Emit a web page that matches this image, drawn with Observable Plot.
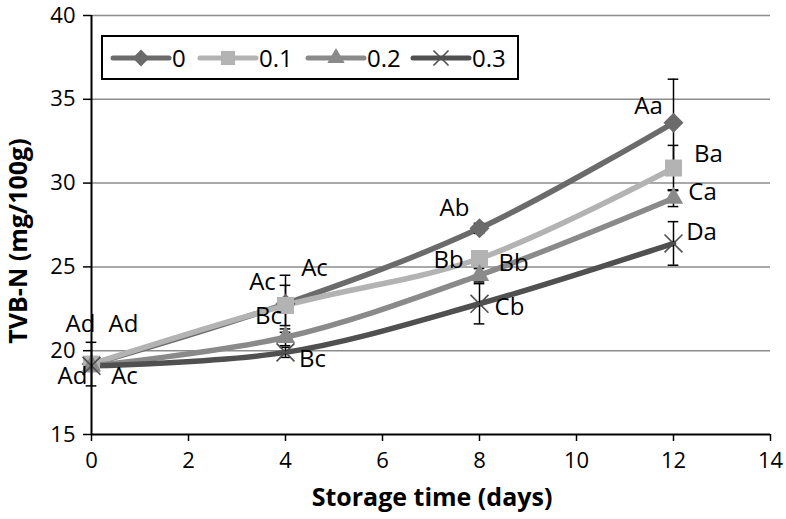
<!DOCTYPE html>
<html><head><meta charset="utf-8">
<script src="https://cdn.jsdelivr.net/npm/d3@7"></script>
<script src="https://cdn.jsdelivr.net/npm/@observablehq/plot@0.6"></script>
<style>
body{margin:0;background:#fff}
#chart{position:relative;width:786px;height:519px}
</style>
</head><body><div id="chart"></div>
<script>
// ---- data ----
const days = [0, 4, 8, 12];
const seriesNames = ["0", "0.1", "0.2", "0.3"];
const tvbn_0   = [19.2, 22.8, 27.3, 33.6];
const tvbn_01  = [19.2, 22.7, 25.5, 30.9];
const tvbn_02  = [19.1, 20.8, 24.5, 29.1];
const tvbn_03  = [19.1, 19.9, 22.8, 26.4];
const sd_0   = [1.3, 1.7, 0.3, 2.6];
const sd_01  = [0.3, 1.2, 0.3, 1.35];
const sd_02  = [0.3, 0.5, 0.4, 0.5];
const sd_03  = [0.3, 0.3, 1.2, 1.3];
const letters_0  = ["Ad", "Ac", "Ab", "Aa"];
const letters_01 = ["Ad", "Ac", "Bb", "Ba"];
const letters_02 = ["Ad", "Bc", "Bb", "Ca"];
const letters_03 = ["Ac", "Bc", "Cb", "Da"];
const xTicks = [0, 2, 4, 6, 8, 10, 12, 14];
const yTicks = [15, 20, 25, 30, 35, 40];
const gridLines = [20, 25, 30, 35, 40];
const xTitle = "Storage time (days)";
const yTitle = "TVB-N (mg/100g)";

// ---- styling / layout ----
const seriesValues = [tvbn_0, tvbn_01, tvbn_02, tvbn_03];
const seriesSd = [sd_0, sd_01, sd_02, sd_03];
const seriesLetters = [letters_0, letters_01, letters_02, letters_03];
const colors = ["#6b6b6b", "#b3b3b3", "#8a8a8a", "#505050"];
const symbols = ["diamond2", "square", "triangle", "times"];
const radii = [9, 9.6, 7.2, 8.2];
// label offsets in pixels relative to each point [series][day]
const labelOffsets = [
  [[-11, -40], [-23, -21], [-25, -20], [-25, -16]],
  [[32, -40], [29, -37], [-31, 2], [35, -14]],
  [[-19, 11], [-17, -21], [34, -12], [29, -6]],
  [[33, 11], [27, 7], [30, 4], [28, -11]]
];

const rows = seriesNames.flatMap((s, i) => days.map((d, j) => ({
  series: s, si: i, j, day: d,
  value: seriesValues[i][j], sd: seriesSd[i][j], label: seriesLetters[i][j]
})));

const marks = [];
marks.push(Plot.ruleY(gridLines, {stroke: "#8c8c8c", strokeWidth: 1.5}));
seriesNames.forEach((s, i) => {
  marks.push(Plot.line(rows.filter(r => r.si === i), {
    x: "day", y: "value", stroke: colors[i], strokeWidth: 5.5, curve: "catmull-rom"
  }));
});
// error bars
marks.push(Plot.ruleX(rows, {x: "day", y1: d => d.value - d.sd, y2: d => d.value + d.sd, stroke: "black", strokeWidth: 1.5}));
marks.push(Plot.ruleY(rows, {y: d => d.value + d.sd, x1: d => d.day - 0.11, x2: d => d.day + 0.11, stroke: "black", strokeWidth: 1.5}));
marks.push(Plot.ruleY(rows, {y: d => d.value - d.sd, x1: d => d.day - 0.11, x2: d => d.day + 0.11, stroke: "black", strokeWidth: 1.5}));
// markers
seriesNames.forEach((s, i) => {
  const isStroke = symbols[i] === "times";
  marks.push(Plot.dot(rows.filter(r => r.si === i), {
    x: "day", y: "value", symbol: () => symbols[i], r: radii[i],
    fill: isStroke ? "none" : colors[i],
    stroke: isStroke ? colors[i] : "none",
    strokeWidth: isStroke ? 1.6 : 0
  }));
});
// axes lines
marks.push(Plot.ruleX([0], {stroke: "black", strokeWidth: 2}));
marks.push(Plot.ruleY([15], {stroke: "black", strokeWidth: 2}));
// letter labels
rows.forEach(r => {
  const [dx, dy] = labelOffsets[r.si][r.j];
  marks.push(Plot.text([r], {x: "day", y: "value", text: "label", dx, dy, fill: "black", fontSize: 24}));
});
marks.push(Plot.axisX({ticks: xTicks, tickSize: 7, tickPadding: 11, label: null, stroke: "black", strokeWidth: 1.5, fontSize: 22}));
marks.push(Plot.axisY({ticks: yTicks, tickSize: 8, tickPadding: 8, label: null, stroke: "black", strokeWidth: 1.5, fontSize: 22}));

const chart = Plot.plot({
  width: 786, height: 519,
  marginLeft: 91, marginRight: 16, marginTop: 15, marginBottom: 85,
  x: {domain: [0, 14]},
  y: {domain: [15, 40]},
  style: {fontFamily: "'Open Sans', sans-serif", fontSize: "22px", color: "black", background: "white", overflow: "visible"},
  marks
});

const svg = d3.select(chart);
svg.append("text").attr("x", 432).attr("y", 506).attr("text-anchor", "middle")
  .attr("font-weight", "bold").attr("font-size", 25).attr("fill", "black").text(xTitle);
svg.append("text").attr("transform", "translate(27,241) rotate(-90)").attr("text-anchor", "middle")
  .attr("font-weight", "bold").attr("font-size", 25).attr("fill", "black").text(yTitle);

// legend
const lg = svg.append("g");
lg.append("rect").attr("x", 102).attr("y", 36).attr("width", 416).attr("height", 43)
  .attr("fill", "white").attr("stroke", "black").attr("stroke-width", 2);
const legendX = [113, 200, 308, 413];
const symMap = {diamond2: d3.symbolDiamond2, square: d3.symbolSquare, triangle: d3.symbolTriangle, times: d3.symbolTimes};
const legendSizes = [180, 200, 130, 150];
seriesNames.forEach((s, i) => {
  const x0 = legendX[i];
  lg.append("line").attr("x1", x0).attr("x2", x0 + 56).attr("y1", 58).attr("y2", 58)
    .attr("stroke", colors[i]).attr("stroke-width", 5).attr("stroke-linecap", "round");
  const isStroke = symbols[i] === "times";
  lg.append("path").attr("transform", `translate(${x0 + 28},58)`)
    .attr("d", d3.symbol(symMap[symbols[i]], legendSizes[i])())
    .attr("fill", isStroke ? "none" : colors[i]).attr("stroke", isStroke ? colors[i] : "none").attr("stroke-width", 1.6);
  lg.append("text").attr("x", x0 + 59).attr("y", 67).attr("text-anchor", "start")
    .attr("font-size", 24).attr("fill", "black").text(s);
});

document.getElementById("chart").appendChild(chart);
</script>
</body></html>
